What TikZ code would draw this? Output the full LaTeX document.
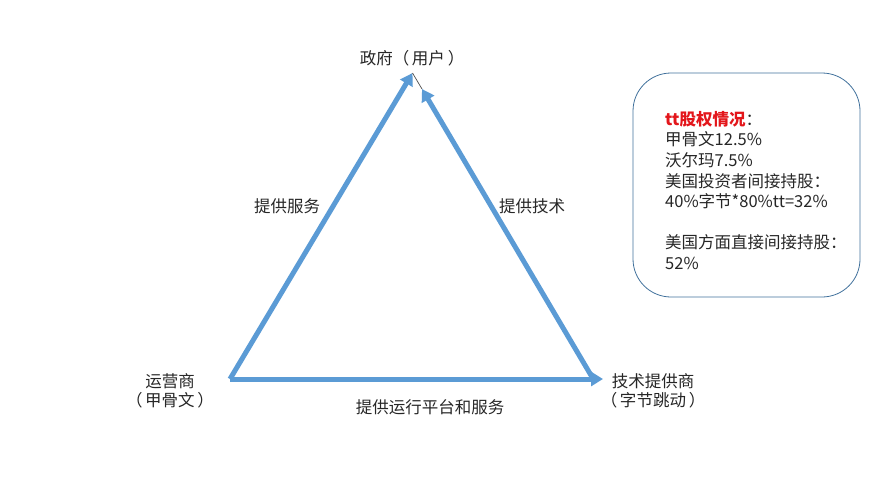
\documentclass[tikz,border=0pt]{standalone}
\usepackage{fontspec}
\setmainfont{Noto Sans CJK SC}
\usetikzlibrary{arrows.meta,positioning}
\definecolor{edgeblue}{HTML}{5B9BD5}
\definecolor{boxline}{HTML}{41719C}
\definecolor{titlered}{HTML}{E3161B}

\tikzset{
  flow/.style={draw=edgeblue, line width=5pt, -{Triangle[length=12pt,width=14pt]}},
  lbl/.style={font=\fontsize{16.5pt}{19.5pt}\selectfont, align=center, text=black!85, inner sep=0pt},
}

\begin{document}
\begin{tikzpicture}[x=1pt,y=-1pt]
    \useasboundingbox (0,0) rectangle (882,477);

    % corners of the triangle
    \coordinate (gov) at (412.5,73);
    \coordinate (govR) at (422,89);
    \coordinate (op) at (230,379);
    \coordinate (tech) at (603,379);
    \coordinate (techS) at (592,377);

    \node[lbl] at (412,58)(govlbl){政府（\,用户\,）};
    \node[lbl] at (170,391)(oplbl){运营商\\（\,甲骨文\,）};
    \node[lbl] at (653,391)(techlbl){技术提供商\\（\,字节跳动\,）};
    \node[lbl] at (287,206)(svclbl){提供服务};
    \node[lbl] at (532,206)(techsvclbl){提供技术};
    \node[lbl] at (430,407)(platlbl){提供运行平台和服务};

    \draw[flow] (op) -- (gov);
    \draw[flow] (techS) -- (govR);
    \draw[flow] (op) -- (tech);
    \draw[black!70, line width=0.7pt] (gov) -- (govR);

    % share box
    \node[draw=boxline, line width=0.8pt, rounded corners=38pt,
          minimum width=227pt, minimum height=224pt] at (746.5,185)(sharebox){};
    \node[anchor=north west, align=left, inner sep=0pt, text=black!85,
          font=\fontsize{16.5pt}{20.6pt}\selectfont] at (665,111)(sharetxt){%
        {\color{titlered}\bfseries tt股权情况}：\\
        甲骨文12.5\%\\
        沃尔玛7.5\%\\
        美国投资者间接持股：\\
        40\%字节*80\%tt=32\%\\[20.6pt]
        美国方面直接间接持股：\\
        52\%};
\end{tikzpicture}
\end{document}
